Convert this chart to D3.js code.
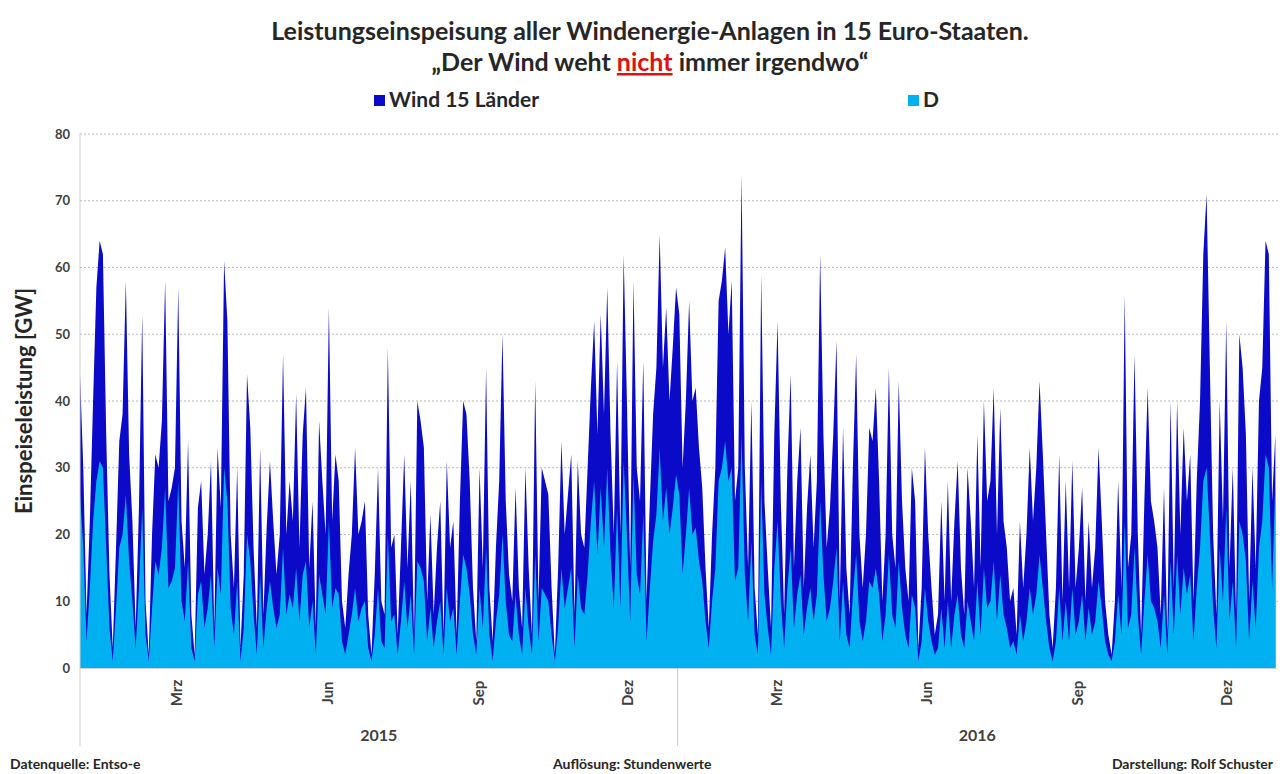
<!DOCTYPE html>
<html><head><meta charset="utf-8">
<script src="https://cdn.jsdelivr.net/npm/d3@7"></script>
<style>
body{margin:0;background:#fff;}
svg text{font-family:Lato,"Open Sans",sans-serif;font-weight:bold;}
</style>
</head><body>
<svg id="chart" width="1283" height="774"></svg>
<script>
// Zeitreihe: ein Wert je 2 Tage ab 1.1.2015 (GW)
const startDate = "2015-01-01";
const stepDays = 2;
const wind15 = [
44,30,8,22,40,57,64,62,35,14,3,18,34,38,58,32,22,6,24,53,10,2,20,32,30,37,58,25,27,30,57,22,15,34,8,2,24,28,14,20,31,6,33,24,61,52,20,12,30,3,14,44,36,18,6,33,8,21,31,22,14,
20,47,20,28,22,41,18,35,42,15,25,6,37,28,20,54,22,32,28,10,6,14,20,33,20,22,25,8,2,14,30,10,8,48,18,20,5,18,32,15,28,5,40,37,33,10,23,8,18,25,5,31,18,22,5,25,40,38,28,12,4,
30,15,45,12,4,18,28,50,25,14,10,27,12,6,30,15,5,43,10,30,28,26,12,2,15,34,20,26,32,8,31,20,18,30,42,52,35,53,38,57,35,20,46,20,62,40,15,58,30,25,46,10,25,38,45,65,45,54,40,48,57,
53,30,40,55,40,42,33,27,15,6,20,30,55,58,63,50,58,25,30,74,30,15,40,12,5,59,25,15,6,35,52,25,8,30,44,15,28,36,12,24,32,18,28,62,35,18,24,35,49,10,36,15,8,30,47,20,12,20,36,34,42,
28,10,20,45,20,15,43,25,15,10,30,25,3,12,33,20,12,5,8,25,10,28,10,22,31,15,8,30,22,12,35,15,40,25,28,42,20,39,22,18,10,12,5,22,12,20,33,22,30,43,32,20,8,3,12,32,10,28,12,31,12,
18,27,10,22,12,18,33,22,10,5,2,10,28,12,56,15,20,47,20,5,25,42,25,22,18,8,27,5,40,12,40,20,36,25,32,10,28,40,62,71,45,20,8,40,22,52,15,30,8,50,45,35,10,30,15,40,45,64,62,25,35
];
const windD = [
26,18,4,12,22,28,31,30,18,6,1,9,18,20,26,16,10,3,12,24,5,1,9,16,14,18,27,12,13,15,28,10,7,16,3,1,11,13,6,9,14,3,15,11,30,25,9,5,13,1,6,20,16,8,2,14,3,9,13,9,6,
8,18,8,11,9,15,7,14,16,6,10,2,14,11,8,22,9,12,11,4,2,5,8,12,7,9,10,3,1,5,12,4,3,20,7,8,2,7,13,6,11,2,16,15,13,4,9,3,7,10,2,12,7,9,2,10,17,15,11,5,2,
12,6,18,5,1,7,11,20,10,5,4,11,5,2,12,6,2,17,4,12,11,10,5,1,6,15,9,12,15,3,14,9,8,14,22,28,17,27,18,30,17,9,24,9,31,20,7,29,14,11,23,4,12,19,23,33,22,27,20,24,29,
26,14,20,27,20,21,16,13,7,3,10,15,28,30,34,28,30,13,15,35,14,7,19,5,2,28,11,6,2,15,22,10,3,12,18,6,11,14,5,9,12,7,11,25,14,7,9,13,18,4,13,5,3,11,17,7,4,7,13,12,15,
11,4,8,17,8,6,16,9,5,3,11,9,1,4,12,7,4,2,3,9,3,10,3,8,11,5,3,10,7,4,13,5,15,9,10,16,7,14,8,6,3,4,2,8,4,7,12,8,11,17,12,7,3,1,4,12,4,10,4,12,5,
7,11,4,9,5,7,13,9,4,2,1,4,11,5,22,6,8,18,8,2,10,17,10,9,7,3,11,2,16,5,17,8,15,11,14,4,12,18,28,30,20,9,3,18,10,24,7,13,3,22,20,16,4,13,6,18,22,32,30,12,28
];
const yTicks = [0,10,20,30,40,50,60,70,80];
const monthTicks = ["2015-03-01","2015-06-01","2015-09-01","2015-12-01","2016-03-01","2016-06-01","2016-09-01","2016-12-01"];
const monthNames = ["Jan","Feb","Mrz","Apr","Mai","Jun","Jul","Aug","Sep","Okt","Nov","Dez"];
const years = ["2015","2016"];
const seriesNames = ["Wind 15 Länder","D"];
const colors = {total:"#0a0ac8", d:"#00b0f0"};

const svg = d3.select("#chart");
const parse = d3.utcParse("%Y-%m-%d");
const t0 = parse(startDate);
const data = wind15.map((v,i)=>({date:d3.utcDay.offset(t0, i*stepDays), w:v, d:windD[i]}));

const x = d3.scaleUtc().domain([parse("2015-01-01"), parse("2017-01-01")]).range([80,1277]);
const y = d3.scaleLinear().domain([0,80]).range([668,134]);

// grid
svg.append("g").selectAll("line").data(yTicks.filter(d=>d>0)).join("line")
  .attr("x1",80).attr("x2",1280).attr("y1",d=>y(d)).attr("y2",d=>y(d))
  .attr("stroke","#b8b8b8").attr("stroke-width",1).attr("stroke-dasharray","2,2");

// areas
const areaW = d3.area().x(d=>x(d.date)).y0(y(0)).y1(d=>y(d.w));
const areaD = d3.area().x(d=>x(d.date)).y0(y(0)).y1(d=>y(d.d));
svg.append("path").datum(data).attr("d",areaW).attr("fill",colors.total);
svg.append("path").datum(data).attr("d",areaD).attr("fill",colors.d);

// y axis labels
const yAxis = d3.axisLeft(y).tickValues(yTicks).tickSize(0).tickPadding(10);
const gy = svg.append("g").attr("transform","translate(80,0)").call(yAxis);
gy.select(".domain").remove();
gy.selectAll("text").attr("font-size",13).attr("fill","#404040").style("font-family","Lato,sans-serif").style("font-weight","bold");

// axis lines
svg.append("line").attr("x1",80).attr("x2",80).attr("y1",134).attr("y2",746).attr("stroke","#d0d0d0");
svg.append("line").attr("x1",80).attr("x2",1277).attr("y1",668.5).attr("y2",668.5).attr("stroke","#d0d0d0");
svg.append("line").attr("x1",x(parse("2016-01-01"))).attr("x2",x(parse("2016-01-01"))).attr("y1",668).attr("y2",746).attr("stroke","#c8c8c8");

// month labels
const xAxis = d3.axisBottom(x).tickValues(monthTicks.map(parse)).tickSize(0)
  .tickFormat(d=>monthNames[d.getUTCMonth()]);
const gx = svg.append("g").attr("transform","translate(0,668)").call(xAxis);
gx.select(".domain").remove();
gx.selectAll("text").attr("transform","rotate(-90)").attr("text-anchor","middle")
  .attr("x",-25).attr("y",0).attr("dy","0.35em")
  .attr("font-size",15).attr("fill","#404040").style("font-family","Lato,sans-serif").style("font-weight","bold");

// year labels
svg.append("g").selectAll("text").data(years).join("text")
  .attr("x",d=>(x(parse(d+"-01-01"))+x(parse((+d+1)+"-01-01")))/2)
  .attr("y",741).attr("text-anchor","middle").attr("font-size",16).attr("fill","#404040").text(d=>d);

// y title
svg.append("text").attr("transform","translate(32,401) rotate(-90)").attr("text-anchor","middle")
  .attr("font-size",22).attr("fill","#262626").text("Einspeiseleistung  [GW]");

// title
svg.append("text").attr("x",650).attr("y",40).attr("text-anchor","middle").attr("font-size",25).attr("fill","#262626")
  .text("Leistungseinspeisung aller Windenergie-Anlagen in 15 Euro-Staaten.");
const t2 = svg.append("text").attr("x",650).attr("y",71).attr("text-anchor","middle").attr("font-size",25).attr("fill","#262626");
t2.append("tspan").text("„Der Wind weht ");
t2.append("tspan").attr("fill","#e01010").attr("text-decoration","underline").text("nicht");
t2.append("tspan").text(" immer irgendwo“");

// legend
const leg = [{name:seriesNames[0],c:colors.total,x:374},{name:seriesNames[1],c:colors.d,x:908}];
const lg = svg.append("g").selectAll("g").data(leg).join("g").attr("transform",d=>`translate(${d.x},95)`);
lg.append("rect").attr("width",11).attr("height",11).attr("fill",d=>d.c);
lg.append("text").attr("x",15).attr("y",12).attr("font-size",21).attr("fill","#262626").text(d=>d.name);

// footer
svg.append("text").attr("x",10).attr("y",769).attr("font-size",14).attr("fill","#262626").text("Datenquelle: Entso-e");
svg.append("text").attr("x",553).attr("y",769).attr("font-size",14).attr("fill","#262626").text("Auflösung:  Stundenwerte");
svg.append("text").attr("x",1273).attr("y",769).attr("text-anchor","end").attr("font-size",14).attr("fill","#262626").text("Darstellung: Rolf Schuster");
</script>
</body></html>
